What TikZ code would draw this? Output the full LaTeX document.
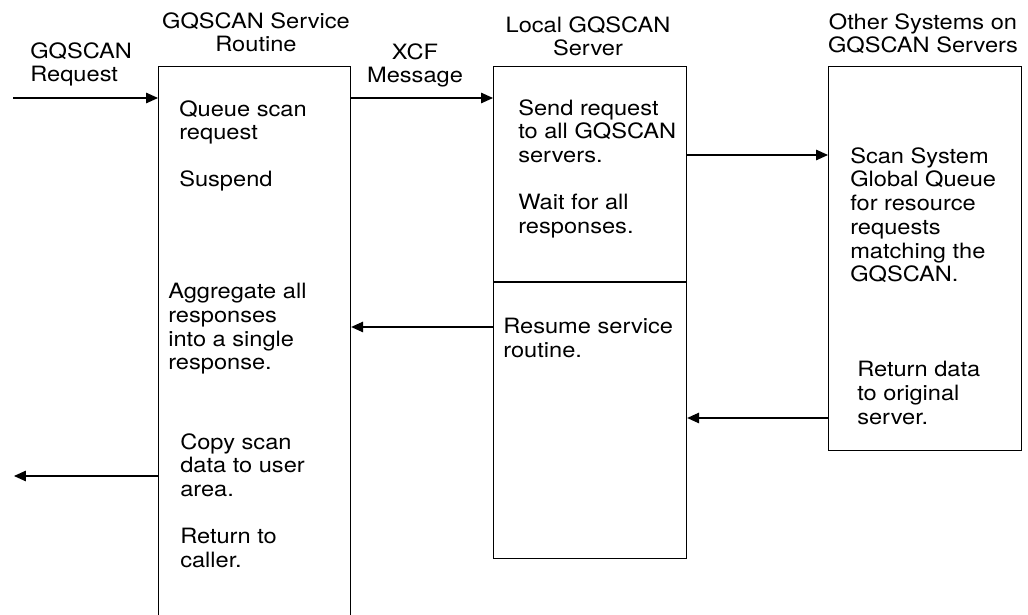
\documentclass[tikz,border=0pt]{standalone}
\usepackage{fontspec}
\setmainfont{TeX Gyre Heros}[FakeStretch=1.12]
\usetikzlibrary{arrows.meta,positioning}
\tikzset{
  box/.style={draw, line width=0.8pt, anchor=north west, inner sep=0pt},
  txt/.style={anchor=north west, inner sep=0pt, align=left, font=\fontsize{15}{16.9}\selectfont},
  ttl/.style={anchor=north, inner sep=0pt, align=center, font=\fontsize{15}{16.9}\selectfont},
  flow/.style={line width=0.8pt, -{Triangle[length=8.5pt,width=7.5pt]}}
}
\begin{document}
\begin{tikzpicture}[x=0.025cm, y=-0.025cm]
\useasboundingbox (0,0) rectangle (1028,615);
\clip (0,0) rectangle (1028,615);
% the three columns
\node[box, minimum width=4.8cm, minimum height=13.975cm] (routine) at (158,66) {};
\node[box, minimum width=4.825cm, minimum height=12.3cm] (local) at (493,66) {};
\node[box, minimum width=4.825cm, minimum height=9.6cm] (other) at (828,66) {};
\coordinate (split) at (0,282);
\draw[line width=0.8pt] (local.west |- split) -- (local.east |- split);
% headings
\node[ttl] (routinettl) at (256,12) {GQSCAN Service\\Routine};
\node[ttl] (localttl) at (588,16) {Local GQSCAN\\Server};
\node[ttl] (otherttl) at (923,13) {Other Systems on\\GQSCAN Servers};
\node[ttl] (xcf) at (415,43) {XCF\\Message};
\node[txt] (request) at (30,42) {GQSCAN\\Request};
% steps
\foreach \n/\x/\y/\t in {queue/179/100/{Queue scan\\request}, suspend/179/170/{Suspend},
  aggregate/168/283/{Aggregate all\\responses\\into a single\\response.},
  copy/180/433/{Copy scan\\data to user\\area.}, back/180/528/{Return to\\caller.},
  send/518/99/{Send request\\to all GQSCAN\\servers.}, wait/518/194/{Wait for all\\responses.},
  resume/503/318/{Resume service\\routine.},
  scan/850/147/{Scan System\\Global Queue\\for resource\\requests\\matching the\\GQSCAN.},
  reply/857/361/{Return data\\to original\\server.}}{
  \node[txt] (\n) at (\x,\y) {\t};
}
% messages
\coordinate (in) at (13,98);
\coordinate (out) at (14,476);
\coordinate (ask) at (0,155);
\coordinate (wake) at (0,327);
\coordinate (answer) at (0,418);
\draw[flow] (in) -- (in -| routine.west);
\draw[flow] (routine.east |- in) -- (local.west |- in);
\draw[flow] (local.east |- ask) -- (other.west |- ask);
\draw[flow] (local.west |- wake) -- (routine.east |- wake);
\draw[flow] (other.west |- answer) -- (local.east |- answer);
\draw[flow] (routine.west |- out) -- (out);
\end{tikzpicture}
\end{document}
